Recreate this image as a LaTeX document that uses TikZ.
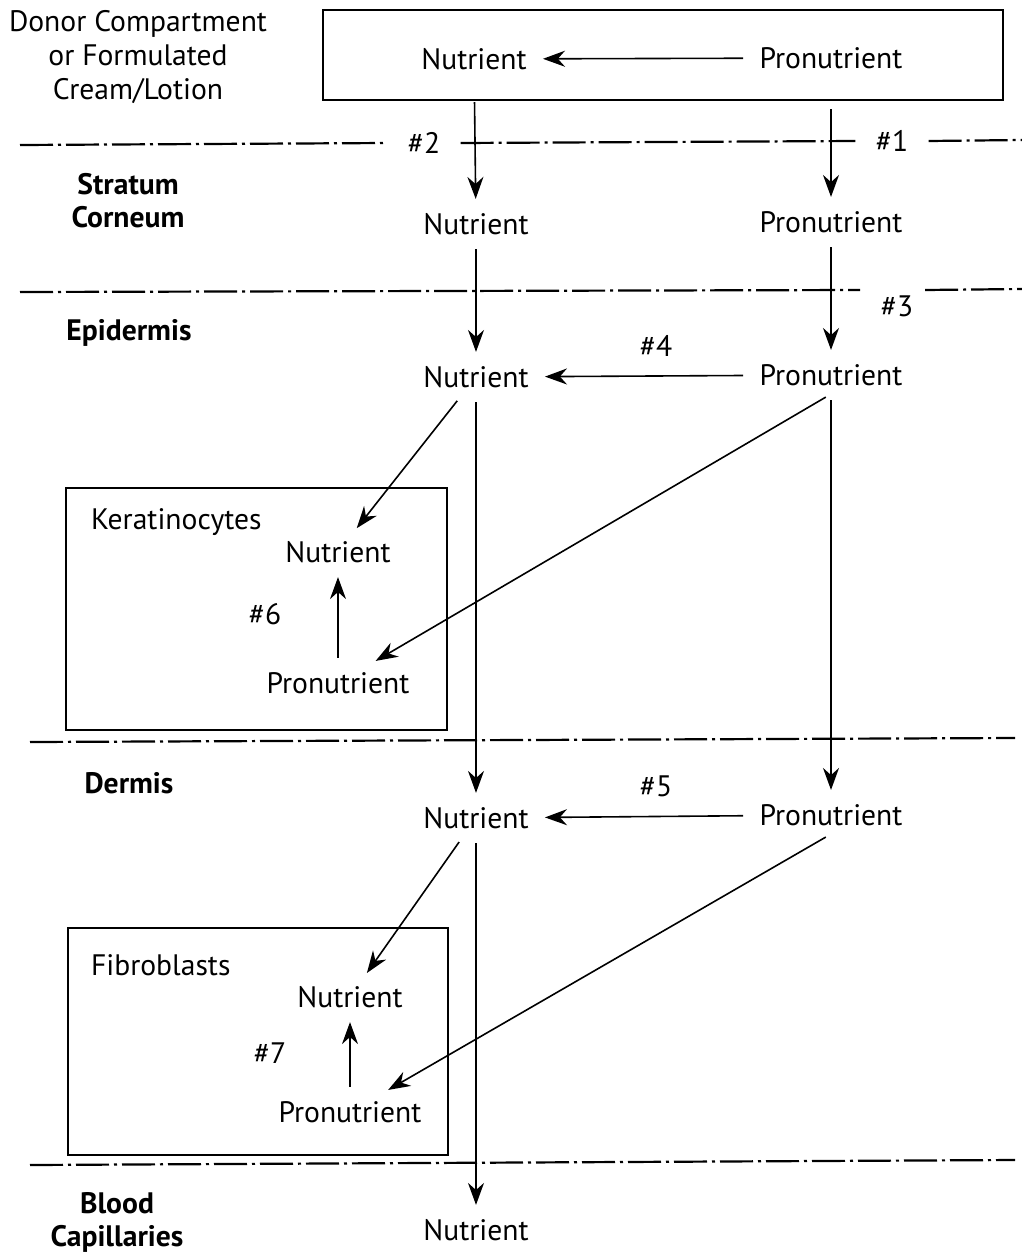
\documentclass[tikz,border=0pt]{standalone}
\usepackage{fontspec}
\setmainfont{PT Sans}
\usepackage{tikz}
\usetikzlibrary{arrows.meta}
\tikzstyle{arrow} = [line width=0.8pt,-{Stealth[length=11pt,width=8pt]},shorten >=3pt,shorten <=3pt]
\tikzstyle{layer} = [line width=1.1pt,dash pattern=on 16.5pt off 2.5pt on 1.5pt off 2.5pt]
\tikzstyle{cell} = [draw,line width=1pt]
\tikzstyle{item} = [inner xsep=5pt,inner ysep=4pt]

\begin{document}
\begin{tikzpicture}[x=0.5pt,y=-0.5pt,font=\fontsize{14.8}{16.5}\selectfont]
	\useasboundingbox (0,0) rectangle (1022,1258);

	% Donor compartment
	\node [align=center,font=\fontsize{14.8}{17}\selectfont] (donorlab) at (138,57) {Donor Compartment\\or Formulated\\Cream/Lotion};
	\draw [cell] (323,10) rectangle (1003,100);
	\node [item] (nut0) at (474,59) {Nutrient};
	\node [item] (pro0) at (831,58) {Pronutrient};
	\draw [arrow] (pro0) -- (nut0);

	% Layer boundaries
	\node [inner xsep=10pt] (h2) at (424,143) {\#2};
	\node [inner xsep=10pt] (h1) at (892,141) {\#1};
	\draw [layer] (20,145) -- (h2.west);
	\draw [layer] (h2.east) -- (h1.west);
	\draw [layer] (h1.east) -- (1022,140);
	\draw [layer] (20,292) -- (860,290);
	\draw [layer] (925,290) -- (1022,289);
	\node (h3) at (897,306) {\#3};
	\draw [layer] (30,742) -- (1015,738);
	\draw [layer] (30,1165) -- (1015,1160);

	% Layer names
	\begin{scope}[font=\fontsize{14.8}{16.5}\selectfont\bfseries]
	\node [align=center] (sc) at (128,201) {Stratum\\Corneum};
	\node (ep) at (129,333) {Epidermis};
	\node (de) at (129,783) {Dermis};
	\node [align=center] (bc) at (117,1222) {Blood\\Capillaries};
	\end{scope}

	% Stratum corneum
	\node [item] (nut1) at (476,224) {Nutrient};
	\node [item] (pro1) at (831,222) {Pronutrient};
	\draw [arrow] (nut0) -- (nut1) [shorten <=12pt];
	\draw [arrow] (pro0) -- (pro1) [shorten <=16pt];

	% Epidermis
	\node [item] (nut2) at (476,377) {Nutrient};
	\node [item] (pro2) at (831,375) {Pronutrient};
	\draw [arrow] (nut1) -- (nut2);
	\draw [arrow] (pro1) -- (pro2);
	\draw [arrow] (pro2) -- (nut2) node [midway,above=6pt,xshift=6pt] {\#4};

	% Keratinocytes
	\draw [cell] (66,488) rectangle (447,730);
	\node [anchor=west] (kerlab) at (84,522) {Keratinocytes};
	\node [item] (kn) at (338,552) {Nutrient};
	\node [item] (kp) at (338,683) {Pronutrient};
	\node (h6) at (265,614) {\#6};
	\draw [arrow] (kp) -- (kn);
	\draw [arrow] (nut2) -- (kn);
	\draw [arrow] (pro2.south) -- (kp);

	% Dermis
	\node [item] (nut3) at (476,818) {Nutrient};
	\node [item] (pro3) at (831,815) {Pronutrient};
	\draw [arrow] (nut2) -- (nut3);
	\draw [arrow] (pro2) -- (pro3);
	\draw [arrow] (pro3) -- (nut3) node [midway,above=6pt,xshift=6pt] {\#5};

	% Fibroblasts
	\draw [cell] (68,928) rectangle (448,1155);
	\node [anchor=west] (fiblab) at (84,965) {Fibroblasts};
	\node [item] (fn) at (350,997) {Nutrient};
	\node [item] (fp) at (350,1112) {Pronutrient};
	\node (h7) at (270,1053) {\#7};
	\draw [arrow] (fp) -- (fn);
	\draw [arrow] (nut3) -- (fn);
	\draw [arrow] (pro3.south) -- (fp);

	% Blood capillaries
	\node [item] (nut4) at (476,1230) {Nutrient};
	\draw [arrow] (nut3) -- (nut4);
\end{tikzpicture}
\end{document}
